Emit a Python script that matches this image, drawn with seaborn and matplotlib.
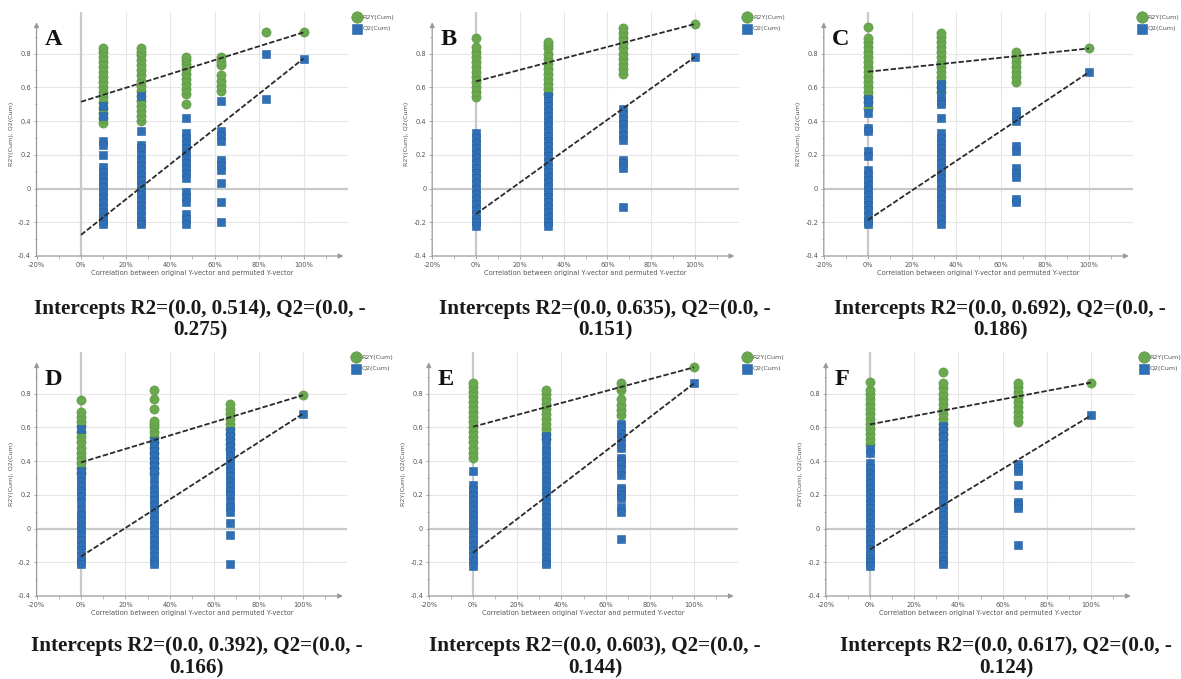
import numpy as np
import pandas as pd
import matplotlib
matplotlib.use("Agg")
import matplotlib.pyplot as plt
import seaborn as sns
from matplotlib.ticker import FixedLocator

# ---------------- data ----------------
panel_letters = ["A", "B", "C", "D", "E", "F"]

A_x = [10, 27, 47, 63, 83, 100]
A_r2 = [[0.39, 0.42, 0.45, 0.48, 0.51, 0.54, 0.57, 0.60, 0.63, 0.66, 0.69, 0.72, 0.75, 0.78, 0.81, 0.83],
        [0.40, 0.43, 0.46, 0.49, 0.52, 0.55, 0.58, 0.61, 0.64, 0.67, 0.70, 0.73, 0.76, 0.79, 0.81, 0.83],
        [0.50, 0.56, 0.59, 0.62, 0.65, 0.68, 0.71, 0.74, 0.76, 0.78],
        [0.58, 0.61, 0.64, 0.67, 0.73, 0.75, 0.78],
        [0.93],
        [0.925]]
A_q2 = [[0.49, 0.43, 0.28, 0.26, 0.20, 0.13, 0.10, 0.07, 0.04, 0.01, -0.02, -0.05, -0.08, -0.11, -0.14, -0.17, -0.19, -0.21],
        [0.55, 0.34, 0.26, 0.24, 0.20, 0.17, 0.14, 0.11, 0.08, 0.05, 0.02, -0.01, -0.04, -0.07, -0.10, -0.13, -0.16, -0.19, -0.21],
        [0.42, 0.33, 0.30, 0.27, 0.24, 0.21, 0.18, 0.15, 0.12, 0.09, 0.06, -0.02, -0.05, -0.08, -0.15, -0.18, -0.21],
        [0.52, 0.34, 0.31, 0.28, 0.17, 0.14, 0.11, 0.03, -0.08, -0.20],
        [0.80, 0.53],
        [0.77]]

B_x = [0, 33, 67, 100]
B_r2 = [[0.54, 0.57, 0.60, 0.63, 0.66, 0.69, 0.72, 0.75, 0.78, 0.81, 0.84, 0.89],
        [0.56, 0.59, 0.62, 0.65, 0.68, 0.71, 0.74, 0.77, 0.80, 0.83, 0.85, 0.87],
        [0.68, 0.71, 0.74, 0.77, 0.80, 0.83, 0.86, 0.89, 0.92, 0.95],
        [0.975]]
B_q2 = [[0.33, 0.30, 0.27, 0.24, 0.21, 0.18, 0.15, 0.12, 0.09, 0.06, 0.03, 0.00, -0.03, -0.06, -0.09, -0.12, -0.15, -0.18, -0.20, -0.22],
        [0.55, 0.52, 0.49, 0.46, 0.43, 0.40, 0.37, 0.34, 0.31, 0.28, 0.25, 0.22, 0.19, 0.16, 0.13, 0.10, 0.07, 0.04, 0.01,
         -0.02, -0.05, -0.08, -0.11, -0.14, -0.17, -0.20, -0.22],
        [0.47, 0.44, 0.41, 0.38, 0.35, 0.32, 0.29, 0.17, 0.15, 0.12, -0.11],
        [0.78]]

C_x = [0, 33, 67, 100]
C_r2 = [[0.48, 0.51, 0.54, 0.57, 0.60, 0.63, 0.66, 0.69, 0.72, 0.75, 0.78, 0.81, 0.84, 0.87, 0.89, 0.96],
        [0.57, 0.60, 0.63, 0.66, 0.69, 0.72, 0.75, 0.78, 0.81, 0.84, 0.87, 0.90, 0.92],
        [0.63, 0.66, 0.69, 0.72, 0.75, 0.78, 0.81],
        [0.83]]
C_q2 = [[0.53, 0.51, 0.45, 0.36, 0.34, 0.22, 0.19, 0.11, 0.08, 0.05, 0.02, -0.01, -0.04, -0.07, -0.10, -0.13, -0.16, -0.19, -0.21],
        [0.62, 0.60, 0.55, 0.52, 0.50, 0.42, 0.33, 0.30, 0.27, 0.24, 0.21, 0.18, 0.15, 0.12, 0.09, 0.06, 0.03, 0.00,
         -0.03, -0.06, -0.09, -0.12, -0.15, -0.18, -0.21],
        [0.46, 0.43, 0.40, 0.25, 0.22, 0.12, 0.09, 0.07, -0.06, -0.08],
        [0.69]]

D_x = [0, 33, 67, 100]
D_r2 = [[0.33, 0.36, 0.39, 0.42, 0.45, 0.48, 0.51, 0.54, 0.57, 0.61, 0.63, 0.66, 0.69, 0.76],
        [0.33, 0.36, 0.39, 0.42, 0.45, 0.48, 0.51, 0.54, 0.57, 0.60, 0.62, 0.64, 0.71, 0.77, 0.82],
        [0.47, 0.50, 0.53, 0.56, 0.59, 0.62, 0.65, 0.68, 0.71, 0.74],
        [0.79]]
D_q2 = [[0.59, 0.34, 0.31, 0.28, 0.25, 0.22, 0.19, 0.16, 0.11, 0.08, 0.05, 0.02, -0.01, -0.04, -0.07, -0.10, -0.13, -0.16, -0.19, -0.21],
        [0.52, 0.49, 0.46, 0.43, 0.40, 0.37, 0.34, 0.30, 0.26, 0.23, 0.20, 0.17, 0.14, 0.11, 0.08, 0.05, 0.02,
         -0.01, -0.04, -0.07, -0.10, -0.13, -0.16, -0.19, -0.21],
        [0.58, 0.55, 0.52, 0.49, 0.46, 0.43, 0.40, 0.37, 0.34, 0.31, 0.28, 0.25, 0.22, 0.20, 0.16, 0.13, 0.10, 0.03, -0.04, -0.21],
        [0.68]]

E_x = [0, 33, 67, 100]
E_r2 = [[0.42, 0.45, 0.48, 0.51, 0.54, 0.57, 0.60, 0.63, 0.66, 0.69, 0.72, 0.75, 0.78, 0.81, 0.84, 0.86],
        [0.53, 0.56, 0.59, 0.62, 0.65, 0.68, 0.71, 0.74, 0.77, 0.80, 0.82],
        [0.67, 0.70, 0.73, 0.77, 0.82, 0.84, 0.86],
        [0.955]]
E_q2 = [[0.34, 0.26, 0.23, 0.20, 0.17, 0.14, 0.11, 0.08, 0.05, 0.02, -0.01, -0.04, -0.07, -0.10, -0.13, -0.16, -0.19, -0.22],
        [0.55, 0.53, 0.49, 0.46, 0.43, 0.40, 0.37, 0.34, 0.31, 0.28, 0.25, 0.22, 0.19, 0.16, 0.13, 0.10, 0.07, 0.04, 0.01,
         -0.02, -0.05, -0.08, -0.11, -0.14, -0.17, -0.20, -0.21],
        [0.62, 0.60, 0.56, 0.54, 0.50, 0.48, 0.42, 0.40, 0.38, 0.35, 0.32, 0.24, 0.22, 0.20, 0.18, 0.13, 0.10, -0.06],
        [0.86]]

F_x = [0, 33, 67, 100]
F_r2 = [[0.50, 0.53, 0.56, 0.59, 0.62, 0.65, 0.68, 0.71, 0.74, 0.77, 0.80, 0.82, 0.87],
        [0.53, 0.56, 0.59, 0.62, 0.65, 0.68, 0.71, 0.74, 0.77, 0.80, 0.83, 0.86, 0.93],
        [0.63, 0.66, 0.69, 0.72, 0.75, 0.78, 0.81, 0.84, 0.86],
        [0.865]]
F_q2 = [[0.47, 0.45, 0.39, 0.36, 0.33, 0.30, 0.27, 0.24, 0.21, 0.18, 0.15, 0.12, 0.09, 0.06, 0.03, 0.00,
         -0.03, -0.06, -0.09, -0.12, -0.15, -0.18, -0.20, -0.22],
        [0.61, 0.58, 0.55, 0.50, 0.48, 0.44, 0.41, 0.38, 0.35, 0.32, 0.29, 0.26, 0.23, 0.20, 0.17, 0.14, 0.11, 0.08,
         0.05, 0.02, -0.01, -0.04, -0.07, -0.10, -0.13, -0.16, -0.19, -0.21],
        [0.38, 0.36, 0.34, 0.26, 0.16, 0.14, 0.12, -0.10],
        [0.67]]

R2_intercepts = [0.514, 0.635, 0.692, 0.392, 0.603, 0.617]
Q2_intercepts = [-0.275, -0.151, -0.186, -0.166, -0.144, -0.124]

x_ticks = [-20, 0, 20, 40, 60, 80, 100]
x_tick_labels = ["-20%", "0%", "20%", "40%", "60%", "80%", "100%"]
x_minor_ticks = [-10, 10, 30, 50, 70, 90, 110]
y_ticks = [-0.4, -0.2, 0, 0.2, 0.4, 0.6, 0.8]
y_tick_labels = ["-0.4", "-0.2", "0", "0.2", "0.4", "0.6", "0.8"]
y_minor_ticks = [-0.3, -0.1, 0.1, 0.3, 0.5, 0.7, 0.9]

series_names = ["R2Y(Cum)", "Q2(Cum)"]
x_label = "Correlation between original Y-vector and permuted Y-vector"
y_label = "R2Y(Cum), Q2(Cum)"

# ---------------- style ----------------
sns.set_theme(style="white")
plt.rcParams["font.family"] = ["DejaVu Sans"]

GREEN = "#6aa84f"
GREEN_EDGE = "#5a9242"
BLUE = "#2f6fb5"
BLUE_EDGE = "#28609f"
GRID = "#e6e6e6"
AXC = "#9a9a9a"
TXT = "#555555"

W, H = 1181, 679
fig = plt.figure(figsize=(W / 100, H / 100), dpi=100)

# layout in pixels: (pixel of 0%, px per %, pixel row of y=-0.4, title centre x, title line y's)
layout = [
    (81, 2.225, 256, 200, 309, 330),
    (476, 2.19, 256, 605, 309, 330),
    (868, 2.21, 256, 1000, 309, 330),
    (81, 2.22, 596, 197, 646, 668),
    (473, 2.21, 596, 595, 646, 668),
    (870, 2.21, 596, 1006, 646, 668),
]
PY = 168.75  # px per y unit
XMIN, XMAX = -20, 120
YMIN, YMAX = -0.4, 1.045

xs_all = [A_x, B_x, C_x, D_x, E_x, F_x]
r2_all = [A_r2, B_r2, C_r2, D_r2, E_r2, F_r2]
q2_all = [A_q2, B_q2, C_q2, D_q2, E_q2, F_q2]

for i in range(6):
    x0, sx, yb, tcx, ty1, ty2 = layout[i]
    left = x0 + XMIN * sx
    width = (XMAX - XMIN) * sx
    height = (YMAX - YMIN) * PY
    ax = fig.add_axes([left / W, (H - yb) / H, width / W, height / H])

    rows = []
    for xv, r2v, q2v in zip(xs_all[i], r2_all[i], q2_all[i]):
        for v in r2v:
            rows.append((xv, v, series_names[0]))
        for v in q2v:
            rows.append((xv, v, series_names[1]))
    df = pd.DataFrame(rows, columns=["x", "y", "series"])

    # grid + zero lines
    for xt in x_ticks[1:]:
        ax.axvline(xt, color=GRID, lw=0.8, zorder=0)
    for yt in y_ticks[1:]:
        ax.axhline(yt, color=GRID, lw=0.8, zorder=0)
    ax.axhline(0, color="#c9c9c9", lw=1.6, zorder=0.5)
    ax.axvline(0, color="#c9c9c9", lw=1.6, zorder=0.5)

    sns.scatterplot(data=df[df.series == series_names[0]], x="x", y="y", color=GREEN,
                    marker="o", s=44, edgecolor=GREEN_EDGE, linewidth=0.4,
                    label=series_names[0], ax=ax, zorder=3, clip_on=False)
    sns.scatterplot(data=df[df.series == series_names[1]], x="x", y="y", color=BLUE,
                    marker="s", s=30, edgecolor=BLUE_EDGE, linewidth=0.4,
                    label=series_names[1], ax=ax, zorder=4, clip_on=False)

    # regression lines from intercept to original model point
    r2_end = r2_all[i][-1][0]
    q2_end = q2_all[i][-1][0]
    ax.plot([0, 100], [R2_intercepts[i], r2_end], color="#2a2a2a", lw=1.3,
            ls=(0, (3, 1.2)), zorder=6)
    ax.plot([0, 100], [Q2_intercepts[i], q2_end], color="#2a2a2a", lw=1.3,
            ls=(0, (3, 1.2)), zorder=6)

    ax.set_xlim(XMIN, XMAX)
    ax.set_ylim(YMIN, YMAX)
    for s in ax.spines.values():
        s.set_visible(False)

    # arrow axes
    ax.annotate("", xy=(118, YMIN), xytext=(XMIN, YMIN), xycoords="data",
                arrowprops=dict(arrowstyle="-|>", color=AXC, lw=0.9, mutation_scale=7,
                                shrinkA=0, shrinkB=0), annotation_clip=False)
    ax.annotate("", xy=(XMIN, 0.985), xytext=(XMIN, YMIN), xycoords="data",
                arrowprops=dict(arrowstyle="-|>", color=AXC, lw=0.9, mutation_scale=7,
                                shrinkA=0, shrinkB=0), annotation_clip=False)

    ax.set_xticks(x_ticks)
    ax.set_xticklabels(x_tick_labels)
    ax.set_yticks(y_ticks)
    ax.set_yticklabels(y_tick_labels)
    ax.xaxis.set_minor_locator(FixedLocator(x_minor_ticks))
    ax.yaxis.set_minor_locator(FixedLocator(y_minor_ticks))
    ax.tick_params(axis="both", which="major", labelsize=4.8, labelcolor=TXT, color=AXC,
                   length=2.5, width=0.6, pad=1.5, bottom=True, left=True)
    ax.tick_params(axis="both", which="minor", color=AXC, length=1.8, width=0.5,
                   bottom=True, left=True)
    ax.set_xlabel(x_label, fontsize=4.8, color=TXT, labelpad=2)
    ax.set_ylabel(y_label, fontsize=4.6, color=TXT, labelpad=3)

    ax.text(0.027, 0.93, panel_letters[i], transform=ax.transAxes,
            family="Liberation Serif", weight="bold", fontsize=17.5, va="top", ha="left",
            color="#111111", zorder=8)

    leg = ax.legend(loc="upper left", bbox_to_anchor=(1.02, 0.99), frameon=False,
                    fontsize=4.6, handletextpad=0.45, labelspacing=0.9, borderaxespad=0,
                    handlelength=0.8, markerscale=1.25, borderpad=0)
    for t in leg.get_texts():
        t.set_color(TXT)

    r2s = f"{R2_intercepts[i]:.3f}"
    q2s = f"{abs(Q2_intercepts[i]):.3f}"
    fig.text(tcx / W, 1 - ty1 / H, f"Intercepts R2=(0.0, {r2s}), Q2=(0.0, -",
             ha="center", va="center", family="Liberation Serif", weight="bold",
             fontsize=15.2, color="#1a1a1a")
    fig.text(tcx / W, 1 - ty2 / H, f"{q2s})",
             ha="center", va="center", family="Liberation Serif", weight="bold",
             fontsize=15.2, color="#1a1a1a")

fig.savefig("out.png", dpi=100, facecolor="white")
